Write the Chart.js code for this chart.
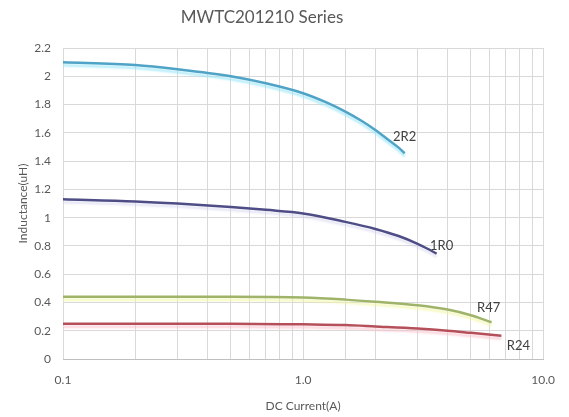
<!DOCTYPE html>
<html>
<head>
<meta charset="utf-8">
<script src="https://cdn.jsdelivr.net/npm/chart.js@4.4.1/dist/chart.umd.min.js"></script>
<style>
  html, body { margin: 0; padding: 0; background: #fff; }
  #wrap { width: 569px; height: 417px; }
</style>
</head>
<body>
<div id="wrap"><canvas id="lineChart"></canvas></div>
<script>
// DC bias curves, current in A, inductance in uH
var names = ["2R2", "1R0", "R47", "R24"];
var current2R2 = [0.1, 0.2, 0.3, 0.5, 0.7, 1.0, 1.25, 1.5, 1.75, 2.0, 2.25, 2.5, 2.65];
var induct2R2 = [2.10, 2.08, 2.05, 2.00, 1.95, 1.88, 1.815, 1.75, 1.685, 1.62, 1.555, 1.495, 1.455];
var current1R0 = [0.1, 0.2, 0.3, 0.5, 0.7, 1.0, 1.5, 2.0, 2.5, 3.0, 3.3, 3.6];
var induct1R0 = [1.13, 1.115, 1.10, 1.075, 1.055, 1.03, 0.97, 0.92, 0.87, 0.815, 0.78, 0.745];
var currentR47 = [0.1, 0.5, 1.0, 1.5, 2.0, 3.0, 4.0, 5.0, 6.1];
var inductR47 = [0.44, 0.44, 0.435, 0.42, 0.405, 0.38, 0.35, 0.31, 0.26];
var currentR24 = [0.1, 0.5, 1.0, 1.5, 2.0, 3.0, 4.0, 5.0, 6.7];
var inductR24 = [0.25, 0.25, 0.245, 0.24, 0.23, 0.215, 0.20, 0.185, 0.165];
var yTicks = [0, 0.2, 0.4, 0.6, 0.8, 1, 1.2, 1.4, 1.6, 1.8, 2, 2.2];
var xTickLabels = {0.1: "0.1", 1: "1.0", 10: "10.0"};

var lineColors = ["#4fa3c6", "#4e4d86", "#9fb46a", "#b5505a"];
var glowColors = ["rgba(150,230,248,0.7)", "rgba(205,205,238,0.5)", "rgba(242,246,165,0.7)", "rgba(250,195,205,0.7)"];
// where each series name sits relative to its last point
var nameOffsets = [[0, -17], [5, -8], [-3, -14], [17, 10]];

function toPoints(xs, ys) {
    return xs.map(function (x, i) { return {x: x, y: ys[i]}; });
}

var seriesData = [
    toPoints(current2R2, induct2R2),
    toPoints(current1R0, induct1R0),
    toPoints(currentR47, inductR47),
    toPoints(currentR24, inductR24)
];

var textColor = "#595959";
var fontFamily = "Lato, 'Open Sans', sans-serif";

var glowPlugin = {
    id: "glow",
    beforeDatasetDraw: function (chart, args) {
        var ctx = chart.ctx;
        ctx.save();
        ctx.shadowColor = glowColors[args.index];
        ctx.shadowBlur = 2;
        ctx.shadowOffsetY = 3;
    },
    afterDatasetDraw: function (chart) {
        chart.ctx.restore();
    }
};

var labelPlugin = {
    id: "curveNames",
    afterDraw: function (chart) {
        var ctx = chart.ctx;
        ctx.save();
        ctx.fillStyle = "#404040";
        ctx.font = "13px " + fontFamily;
        ctx.textAlign = "center";
        ctx.textBaseline = "middle";
        chart.data.datasets.forEach(function (ds, i) {
            var last = ds.data[ds.data.length - 1];
            var px = chart.scales.x.getPixelForValue(last.x);
            var py = chart.scales.y.getPixelForValue(last.y);
            ctx.fillText(names[i], px + nameOffsets[i][0], py + nameOffsets[i][1]);
        });
        // chart title
        ctx.fillStyle = textColor;
        ctx.font = "17px " + fontFamily;
        ctx.fillText("MWTC201210 Series", 262, 18);
        ctx.restore();
    }
};

var ctx = document.getElementById("lineChart").getContext("2d");
new Chart(ctx, {
    type: "scatter",
    data: {
        datasets: seriesData.map(function (pts, i) {
            return {
                label: names[i],
                data: pts,
                showLine: true,
                borderColor: lineColors[i],
                borderWidth: 2.5,
                pointRadius: 0,
                cubicInterpolationMode: "monotone",
                fill: false
            };
        })
    },
    options: {
        responsive: true,
        maintainAspectRatio: false,
        animation: false,
        layout: {padding: {top: 48, right: 20, left: 16, bottom: 4}},
        plugins: {
            legend: {display: false},
            tooltip: {enabled: false}
        },
        scales: {
            x: {
                type: "logarithmic",
                min: 0.1,
                max: 10,
                afterFit: function (axis) { axis.height = 54; },
                grid: {color: "#d9d9d9", drawTicks: false},
                border: {color: "#bfbfbf"},
                ticks: {
                    autoSkip: false,
                    maxRotation: 0,
                    padding: 14,
                    color: textColor,
                    font: {family: fontFamily, size: 12},
                    callback: function (value) {
                        var key = Math.round(value * 1000) / 1000;
                        return xTickLabels[key] !== undefined ? xTickLabels[key] : "";
                    }
                },
                title: {
                    display: true,
                    text: "DC Current(A)",
                    color: textColor,
                    font: {family: fontFamily, size: 12},
                    padding: {top: 0, bottom: 0}
                }
            },
            y: {
                min: 0,
                max: 2.2,
                afterBuildTicks: function (axis) {
                    axis.ticks = yTicks.map(function (v) { return {value: v}; });
                },
                afterFit: function (axis) { axis.width = 47; },
                grid: {color: "#d9d9d9", drawTicks: false},
                border: {display: false},
                ticks: {
                    padding: 12,
                    color: textColor,
                    font: {family: fontFamily, size: 12},
                    callback: function (value) { return String(Math.round(value * 10) / 10); }
                },
                title: {
                    display: true,
                    text: "Inductance(uH)",
                    color: textColor,
                    font: {family: fontFamily, size: 12},
                    padding: {top: 0, bottom: 0}
                }
            }
        }
    },
    plugins: [glowPlugin, labelPlugin]
});
</script>
</body>
</html>
